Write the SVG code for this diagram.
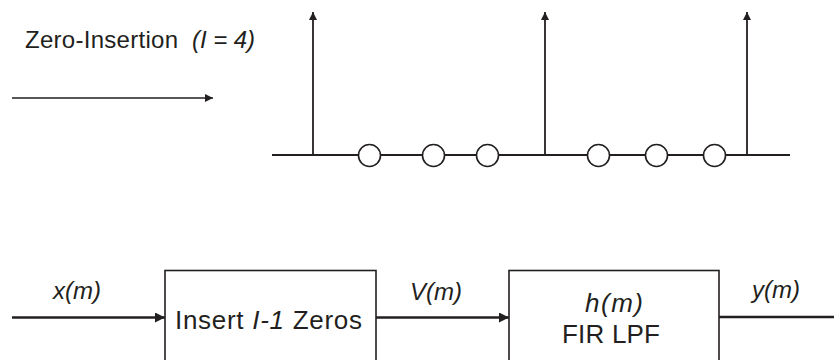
<svg xmlns="http://www.w3.org/2000/svg" width="834" height="360" viewBox="0 0 834 360">
<style>
text{font-family:"Liberation Sans",Arial,sans-serif;fill:#231f20}
.it{font-style:italic}
.ln{stroke:#231f20;fill:none}
.box{stroke:#231f20;stroke-width:1.6;fill:#fff}
.zero{stroke:#231f20;stroke-width:1.6;fill:#fff}
</style>
<defs>
<marker id="ah" viewBox="0 0 10 10" refX="10" refY="5" markerWidth="9" markerHeight="8" markerUnits="userSpaceOnUse" orient="auto">
<path d="M0,0 L10,5 L0,10 z" fill="#231f20"/>
</marker>
<marker id="ah2" viewBox="0 0 10 10" refX="10" refY="5" markerWidth="11" markerHeight="10" markerUnits="userSpaceOnUse" orient="auto">
<path d="M0,0 L10,5 L0,10 z" fill="#231f20"/>
</marker>
</defs>
<g id="title">
<text x="25" y="48" font-size="24" textLength="153" lengthAdjust="spacing">Zero-Insertion</text>
<text x="192" y="48" font-size="24" class="it" textLength="63" lengthAdjust="spacing">(I = 4)</text>
</g>
<g id="stem-plot">
<line class="ln" x1="272" y1="155" x2="790" y2="155" stroke-width="1.8"/>
<line class="ln" x1="313" y1="155" x2="313" y2="12" stroke-width="1.8" marker-end="url(#ah)"/>
<line class="ln" x1="545" y1="155" x2="545" y2="12" stroke-width="1.8" marker-end="url(#ah)"/>
<line class="ln" x1="747" y1="155" x2="747" y2="12" stroke-width="1.8" marker-end="url(#ah)"/>
<circle class="zero" cx="369.5" cy="155.5" r="11"/>
<circle class="zero" cx="433.5" cy="155.5" r="11"/>
<circle class="zero" cx="487.5" cy="155.5" r="11"/>
<circle class="zero" cx="598.5" cy="155.5" r="11"/>
<circle class="zero" cx="656.5" cy="155.5" r="11"/>
<circle class="zero" cx="714.5" cy="155.5" r="11"/>
</g>
<g id="insert-zeros">
<rect class="box" x="165" y="270.5" width="211" height="100"/>
<text x="175" y="329" font-size="26" textLength="187" lengthAdjust="spacing">Insert  <tspan class="it">I-1</tspan> Zeros</text>
</g>
<g id="fir-lpf">
<rect class="box" x="509" y="270.5" width="210" height="100"/>
<text x="585" y="312" font-size="26" class="it" textLength="58" lengthAdjust="spacing">h(m)</text>
<text x="562" y="343" font-size="26" textLength="98" lengthAdjust="spacing">FIR LPF</text>
</g>
<g id="connectors">
<line class="ln" x1="12" y1="98" x2="213" y2="98" stroke-width="1.6" marker-end="url(#ah)"/>
<line class="ln" x1="12" y1="317.5" x2="165" y2="317.5" stroke-width="2.6" marker-end="url(#ah2)"/>
<line class="ln" x1="376" y1="317.5" x2="509" y2="317.5" stroke-width="2.6" marker-end="url(#ah2)"/>
<line class="ln" x1="719" y1="317" x2="834" y2="317" stroke-width="2.6"/>
<text x="53" y="299" font-size="24" class="it">x(m)</text>
<text x="410" y="300" font-size="24" class="it">V(m)</text>
<text x="752" y="298" font-size="24" class="it">y(m)</text>
</g>
</svg>
